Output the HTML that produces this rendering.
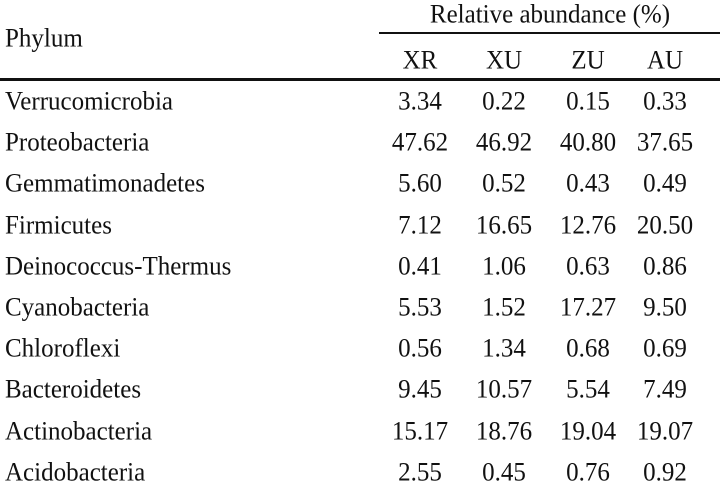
<!DOCTYPE html>
<html><head><meta charset="utf-8"><style>
html,body{margin:0;padding:0;background:#fff;}
body{width:720px;height:488px;position:relative;overflow:hidden;font-family:"Liberation Serif","Times New Roman",serif;font-size:25px;color:#111;}
.t{position:absolute;height:30px;line-height:30px;white-space:nowrap;transform:scaleY(1.04);}
.c{width:120px;text-align:center;}
.l{left:5px;}
.line{position:absolute;background:#111;}
</style></head><body>
<div class="t" style="left:380px;width:340px;text-align:center;top:0px;">Relative abundance (%)</div>
<div class="t l" style="top:24px;">Phylum</div>
<div class="line" style="left:379px;top:32px;width:341px;height:2px;"></div>
<div class="line" style="left:0;top:78px;width:720px;height:3px;"></div>
<div id="rows"></div>
<script>
var cols=[420,504,588,665];
var hdr=["XR","XU","ZU","AU"];
var rows=[["Verrucomicrobia","3.34","0.22","0.15","0.33"],
["Proteobacteria","47.62","46.92","40.80","37.65"],
["Gemmatimonadetes","5.60","0.52","0.43","0.49"],
["Firmicutes","7.12","16.65","12.76","20.50"],
["Deinococcus-Thermus","0.41","1.06","0.63","0.86"],
["Cyanobacteria","5.53","1.52","17.27","9.50"],
["Chloroflexi","0.56","1.34","0.68","0.69"],
["Bacteroidetes","9.45","10.57","5.54","7.49"],
["Actinobacteria","15.17","18.76","19.04","19.07"],
["Acidobacteria","2.55","0.45","0.76","0.92"]];
var h="";
for(var j=0;j<4;j++)h+='<div class="t c" style="left:'+(cols[j]-60)+'px;top:'+(61-15)+'px;">'+hdr[j]+'</div>';
for(var i=0;i<rows.length;i++){var y=102+i*41.2-15;
h+='<div class="t l" style="top:'+y+'px;">'+rows[i][0]+'</div>';
for(var j=0;j<4;j++)h+='<div class="t c" style="left:'+(cols[j]-60)+'px;top:'+y+'px;">'+rows[i][j+1]+'</div>';}
document.getElementById("rows").innerHTML=h;
</script>
</body></html>
